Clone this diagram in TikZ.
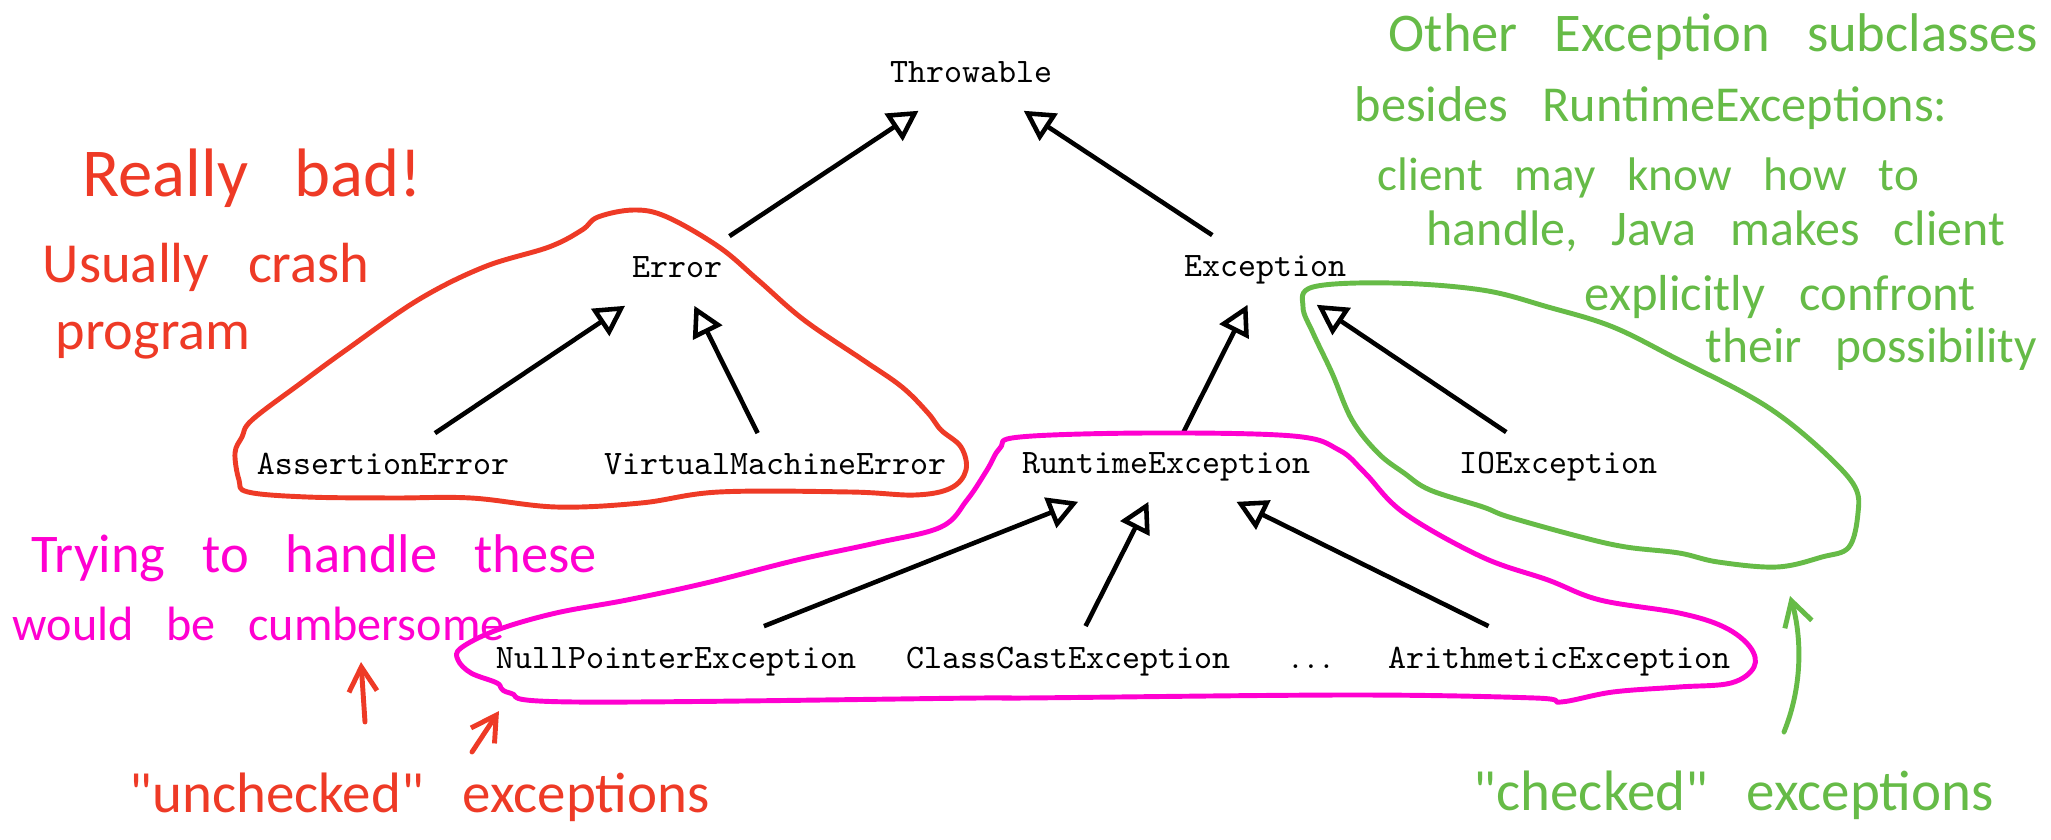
\documentclass[tikz,border=0pt]{standalone}
\usepackage{fontspec}
\usetikzlibrary{arrows.meta}
\newfontfamily\hand[WordSpace=3]{Carlito}
\newcommand\hw[1]{\hand\fontsize{#1}{#1}\selectfont}
\definecolor{penred}{RGB}{238,58,38}
\definecolor{penpink}{RGB}{255,0,208}
\definecolor{pengreen}{RGB}{102,187,71}
\tikzset{
  cls/.style={font=\ttfamily\fontsize{9.75}{12}\selectfont, text height=6pt, text depth=2pt, inner xsep=2pt, inner ysep=5.7pt, anchor=base},
  inh/.style={line width=1.3pt, -{Triangle[open, length=0.3cm, width=0.32cm]}},
  pen/.style={line width=1.4pt, line cap=round, line join=round},
  note/.style={anchor=base west, inner sep=0pt},
  barb/.style={-{Straight Barb[length=7pt, width=8pt]}}
}
\begin{document}
\begin{tikzpicture}[x=0.01cm, y=-0.01cm]
\useasboundingbox (0,0) rectangle (2051,840);
\node[cls] (thr) at (971,83) {Throwable};
\node[cls] (err) at (677,278) {Error};
\node[cls] (exc) at (1265,277) {Exception};
\node[cls] (ae) at (383,475) {AssertionError};
\node[cls] (vme) at (775,475) {VirtualMachineError};
\node[cls] (rte) at (1166,474) {RuntimeException};
\node[cls] (ioe) at (1558,474) {IOException};
\node[cls] (npe) at (676,668) {NullPointerException};
\node[cls] (cce) at (1068,668) {ClassCastException};
\node[cls] (dots) at (1311,668) {$\ldots$};
\node[cls] (ari) at (1559,668) {ArithmeticException};
\draw[inh] (err) -- (thr);
\draw[inh] (exc) -- (thr);
\draw[inh] (ae) -- (err);
\draw[inh] (vme) -- (err);
\draw[inh] (rte) -- (exc);
\draw[inh] (ioe) -- (exc);
\draw[inh] (npe) -- (rte);
\draw[inh] (cce) -- (rte);
\draw[inh] (ari) -- (rte);

\draw[pen, penred] plot[smooth cycle, tension=0.6] coordinates {(252,420) (301,383) (346,350) (418,300) (484,267) (549,247) (582,230) (598,217) (634,210) (667,217) (719,247) (758,280) (804,320) (863,360) (902,387) (928,413) (941,430) (961,447) (966,470) (951,488) (915,495) (850,492) (719,492) (641,503) (556,507) (471,498) (392,498) (307,497) (248,492) (239,480) (235,453) (242,437)};
\draw[pen, penpink] plot[smooth cycle, tension=0.6] coordinates {(1020,437) (1150,433) (1293,436) (1339,450) (1365,473) (1404,513) (1482,557) (1548,580) (1600,600) (1679,613) (1724,627) (1750,647) (1754,667) (1731,683) (1679,687) (1613,692) (1561,702) (1535,698) (1352,695) (1025,698) (980,698) (575,702) (510,693) (497,683) (471,673) (458,660) (461,648) (497,630) (556,613) (627,600) (706,583) (797,560) (876,543) (941,527) (967,500) (987,470) (1000,448)};
\draw[pen, pengreen] plot[smooth cycle, tension=0.6] coordinates {(1313,287) (1391,283) (1482,290) (1548,307) (1613,327) (1679,360) (1744,393) (1786,420) (1829,457) (1855,487) (1858,513) (1849,547) (1822,557) (1777,567) (1718,562) (1679,553) (1626,547) (1581,537) (1509,517) (1483,507) (1430,490) (1404,473) (1378,453) (1352,420) (1332,373) (1313,333) (1303,307)};

\node[note, text=penred, font=\hw{19.5}] (rbad) at (82,197) {Really bad!};
\node[note, text=penred, font=\hw{16.1}] (crash) at (42,283) {Usually crash};
\node[note, text=penred, font=\hw{16}] (prog) at (55,350) {program};
\node[note, text=penpink, font=\hw{15.5}] (try) at (31,573) {Trying to handle these};
\node[note, text=penpink, font=\hw{13.7}] (cumb) at (12,640) {would be cumbersome};
\node[note, text=penred, font=\hw{16.2}] (unch) at (129,812) {"unchecked" exceptions};
\node[note, text=pengreen, font=\hw{15.5}] (oth) at (1388,52) {Other Exception subclasses};
\node[note, text=pengreen, font=\hw{14.3}] (bes) at (1354,122) {besides RuntimeExceptions:};
\node[note, text=pengreen, font=\hw{13.4}] (cli) at (1377,191) {client may know how to};
\node[note, text=pengreen, font=\hw{14.2}] (han) at (1426,246) {handle, Java makes client};
\node[note, text=pengreen, font=\hw{14.4}] (expl) at (1584,311) {explicitly confront};
\node[note, text=pengreen, font=\hw{14.1}] (poss) at (1705,363) {their possibility};
\node[note, text=pengreen, font=\hw{16.2}] (chk) at (1473,810) {"checked" exceptions};

\coordinate (u1a) at (365,722);
\coordinate (u1b) at (361,662);
\coordinate (u2a) at (472,752);
\coordinate (u2b) at (499,711);
\coordinate (c1a) at (1784,732);
\coordinate (c1b) at (1790,596);
\draw[pen, penred, barb] (u1a) -- (u1b);
\draw[pen, penred, barb] (u2a) -- (u2b);
\draw[pen, pengreen, barb] (c1a) .. controls (1805,680) and (1800,630) .. (c1b);
\end{tikzpicture}
\end{document}
